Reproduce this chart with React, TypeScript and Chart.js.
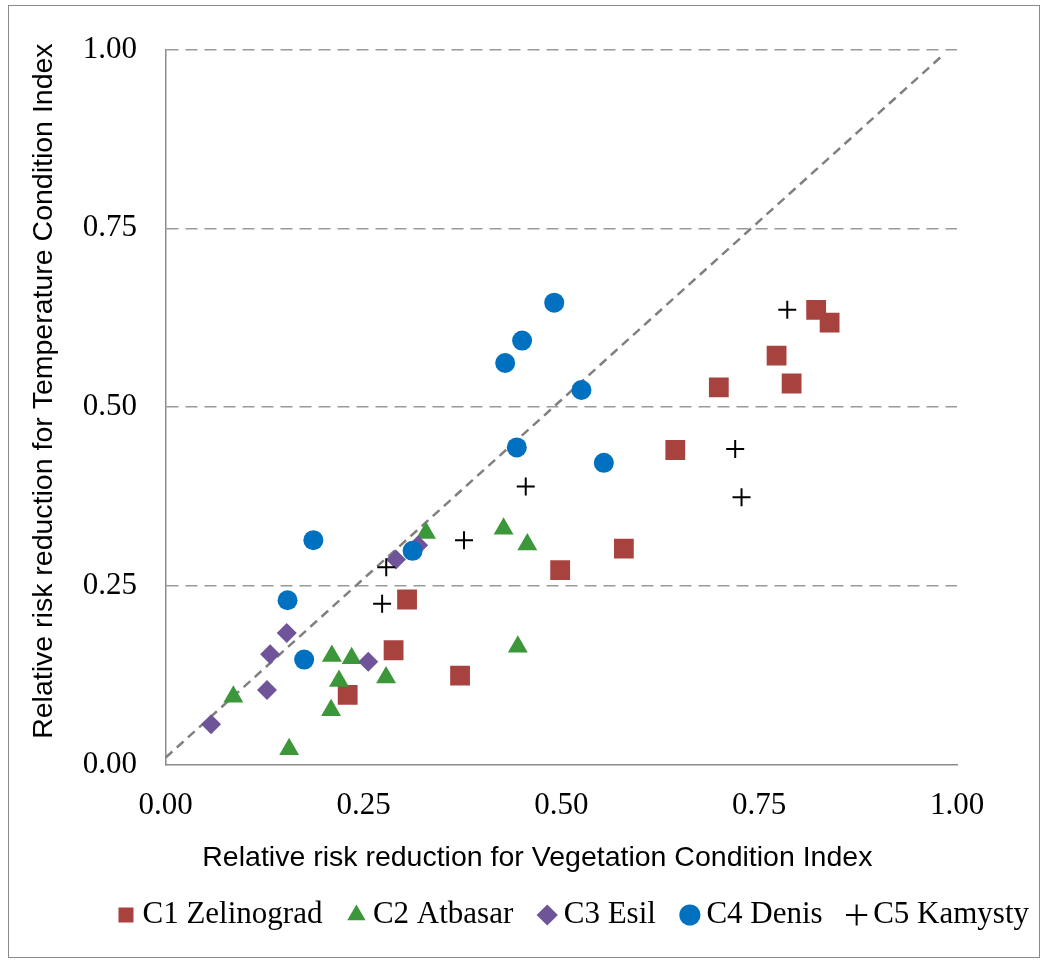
import React, { useEffect, useRef } from "react";
import { Chart, registerables } from "chart.js";

Chart.register(...registerables);

// ---- data (x = VCI relative risk reduction, y = TCI relative risk reduction) ----
const seriesNames = ["C1 Zelinograd", "C2 Atbasar", "C3 Esil", "C4 Denis", "C5 Kamysty"];
const axisTickValues = [0, 0.25, 0.5, 0.75, 1];

const zelinogradVCI = [0.23, 0.288, 0.305, 0.372, 0.4985, 0.579, 0.644, 0.699, 0.772, 0.791, 0.822, 0.839];
const zelinogradTCI = [0.0975, 0.16, 0.231, 0.1245, 0.272, 0.302, 0.44, 0.5275, 0.572, 0.533, 0.636, 0.618];

const atbasarVCI = [0.0855, 0.156, 0.209, 0.21, 0.219, 0.235, 0.2785, 0.329, 0.427, 0.457, 0.445];
const atbasarTCI = [0.095, 0.0215, 0.076, 0.152, 0.117, 0.149, 0.122, 0.324, 0.33, 0.308, 0.165];

const esilVCI = [0.0573, 0.128, 0.132, 0.153, 0.256, 0.291, 0.319];
const esilTCI = [0.0565, 0.1045, 0.1545, 0.184, 0.144, 0.287, 0.307];

const denisVCI = [0.175, 0.154, 0.1866, 0.312, 0.4437, 0.429, 0.4504, 0.491, 0.5254, 0.5537];
const denisTCI = [0.147, 0.23, 0.314, 0.299, 0.4436, 0.5616, 0.593, 0.646, 0.5239, 0.4221];

const kamystyVCI = [0.2735, 0.2787, 0.377, 0.455, 0.7197, 0.7277, 0.7855];
const kamystyTCI = [0.225, 0.276, 0.314, 0.389, 0.4413, 0.374, 0.636];

const diagonalVCI = [0, 0.98];
const diagonalTCI = [0.01, 0.99];

const xTitle = "Relative risk reduction for Vegetation Condition Index";
const yTitle = "Relative risk reduction for Temperature Condition Index";

const toPoints = (xs: number[], ys: number[]) => xs.map((x, i) => ({ x, y: ys[i] }));

const CW = 1154;
const CH = 963;
const PLOT_RIGHT = 957;

const tickFont = { family: '"Liberation Serif", "Times New Roman", serif', size: 31 };

const titlePlugin = {
  id: "axisTitlesCustom",
  afterDraw(chart: any) {
    const { ctx, chartArea } = chart;
    ctx.save();
    ctx.fillStyle = "#000";
    ctx.font = '28.5px "Liberation Sans", Arial, sans-serif';
    ctx.textAlign = "center";
    ctx.textBaseline = "middle";
    const cx = (chartArea.left + chartArea.right) / 2 - 24;
    ctx.fillText(xTitle, cx, chartArea.bottom + 93);
    const cy = (chartArea.top + chartArea.bottom) / 2 - 16;
    ctx.translate(chartArea.left - 122, cy);
    ctx.rotate(-Math.PI / 2);
    ctx.fillText(yTitle, 0, 0);
    ctx.restore();
  },
};

export default function App() {
  const ref = useRef<HTMLCanvasElement | null>(null);

  useEffect(() => {
    if (!ref.current) return;
    const chart = new Chart(ref.current, {
      type: "scatter",
      data: {
        datasets: [
          {
            label: seriesNames[0],
            data: toPoints(zelinogradVCI, zelinogradTCI),
            pointStyle: "rect",
            pointRadius: 14,
            backgroundColor: "#A8423F",
            borderColor: "#A8423F",
            borderWidth: 0,
            order: 5,
          },
          {
            label: seriesNames[1],
            data: toPoints(atbasarVCI, atbasarTCI),
            pointStyle: "triangle",
            pointRadius: 11.5,
            backgroundColor: "#3C973A",
            borderColor: "#3C973A",
            borderWidth: 0,
            order: 4,
          },
          {
            label: seriesNames[2],
            data: toPoints(esilVCI, esilTCI),
            pointStyle: "rectRot",
            pointRadius: 10,
            backgroundColor: "#6F5499",
            borderColor: "#6F5499",
            borderWidth: 0,
            order: 3,
          },
          {
            label: seriesNames[3],
            data: toPoints(denisVCI, denisTCI),
            pointStyle: "circle",
            pointRadius: 10,
            backgroundColor: "#0070C0",
            borderColor: "#0070C0",
            borderWidth: 0,
            order: 2,
          },
          {
            label: seriesNames[4],
            data: toPoints(kamystyVCI, kamystyTCI),
            pointStyle: "cross",
            pointRadius: 9,
            backgroundColor: "#000",
            borderColor: "#000",
            borderWidth: 2,
            order: 1,
          },
          {
            type: "line",
            label: "diagonal",
            data: toPoints(diagonalVCI, diagonalTCI),
            showLine: true,
            pointRadius: 0,
            borderColor: "#808080",
            borderWidth: 2.5,
            borderDash: [9, 6],
            fill: false,
            order: 10,
          } as any,
        ],
      },
      options: {
        responsive: false,
        animation: false,
        events: [],
        layout: { padding: { left: 0, right: 0, top: 49.5, bottom: 22.5 } },
        plugins: {
          legend: {
            position: "bottom",
            align: "center",
            labels: {
              usePointStyle: true,
              boxWidth: 2,
              boxHeight: 15,
              padding: 33,
              color: "#000",
              font: tickFont,
              filter: (item: any) => item.datasetIndex < 5,
              sort: (a: any, b: any) => a.datasetIndex - b.datasetIndex,
            },
          },
          tooltip: { enabled: false },
        },
        scales: {
          x: {
            type: "linear",
            position: "bottom",
            min: 0,
            max: 1,
            afterBuildTicks: (s: any) => {
              s.ticks = axisTickValues.map((v) => ({ value: v }));
            },
            ticks: {
              padding: 23,
              color: "#000",
              font: tickFont,
              maxRotation: 0,
              callback: (v: any) => Number(v).toFixed(2),
            },
            grid: { display: false, drawTicks: false },
            border: { display: true, color: "#8c8c8c", width: 1.5 },
            afterFit: (s: any) => {
              s.height = 101.8;
            },
          },
          y: {
            type: "linear",
            position: "left",
            min: 0,
            max: 1,
            afterBuildTicks: (s: any) => {
              s.ticks = axisTickValues.map((v) => ({ value: v }));
            },
            ticks: {
              padding: 28.7,
              color: "#000",
              font: tickFont,
              callback: (v: any) => Number(v).toFixed(2),
            },
            grid: {
              drawTicks: false,
              lineWidth: 1.5,
              color: (c: any) => (c.tick && c.tick.value === 0 ? "rgba(0,0,0,0)" : "#9a9a9a"),
            },
            border: { display: true, color: "#8c8c8c", width: 1.5, dash: [12, 7] },
            afterFit: (s: any) => {
              s.width = 165.7;
            },
          },
          yR: {
            type: "linear",
            axis: "y",
            position: "right",
            display: true,
            ticks: { display: false },
            grid: { display: false, drawTicks: false },
            border: { display: false },
            afterFit: (s: any) => {
              s.width = CW - PLOT_RIGHT;
            },
          },
        } as any,
      },
      plugins: [titlePlugin],
    });
    return () => chart.destroy();
  }, []);

  return (
    <div
      style={{
        position: "absolute",
        left: 0,
        top: 0,
        width: 1045,
        height: 963,
        overflow: "hidden",
        background: "#fff",
      }}
    >
      <canvas
        ref={ref}
        width={CW}
        height={CH}
        style={{ position: "absolute", left: 0, top: 0, width: CW, height: CH }}
      />
      <div
        style={{
          position: "absolute",
          left: 8,
          top: 5,
          width: 1032,
          height: 953,
          border: "1px solid #8a8a8a",
          boxSizing: "border-box",
          pointerEvents: "none",
        }}
      />
    </div>
  );
}
